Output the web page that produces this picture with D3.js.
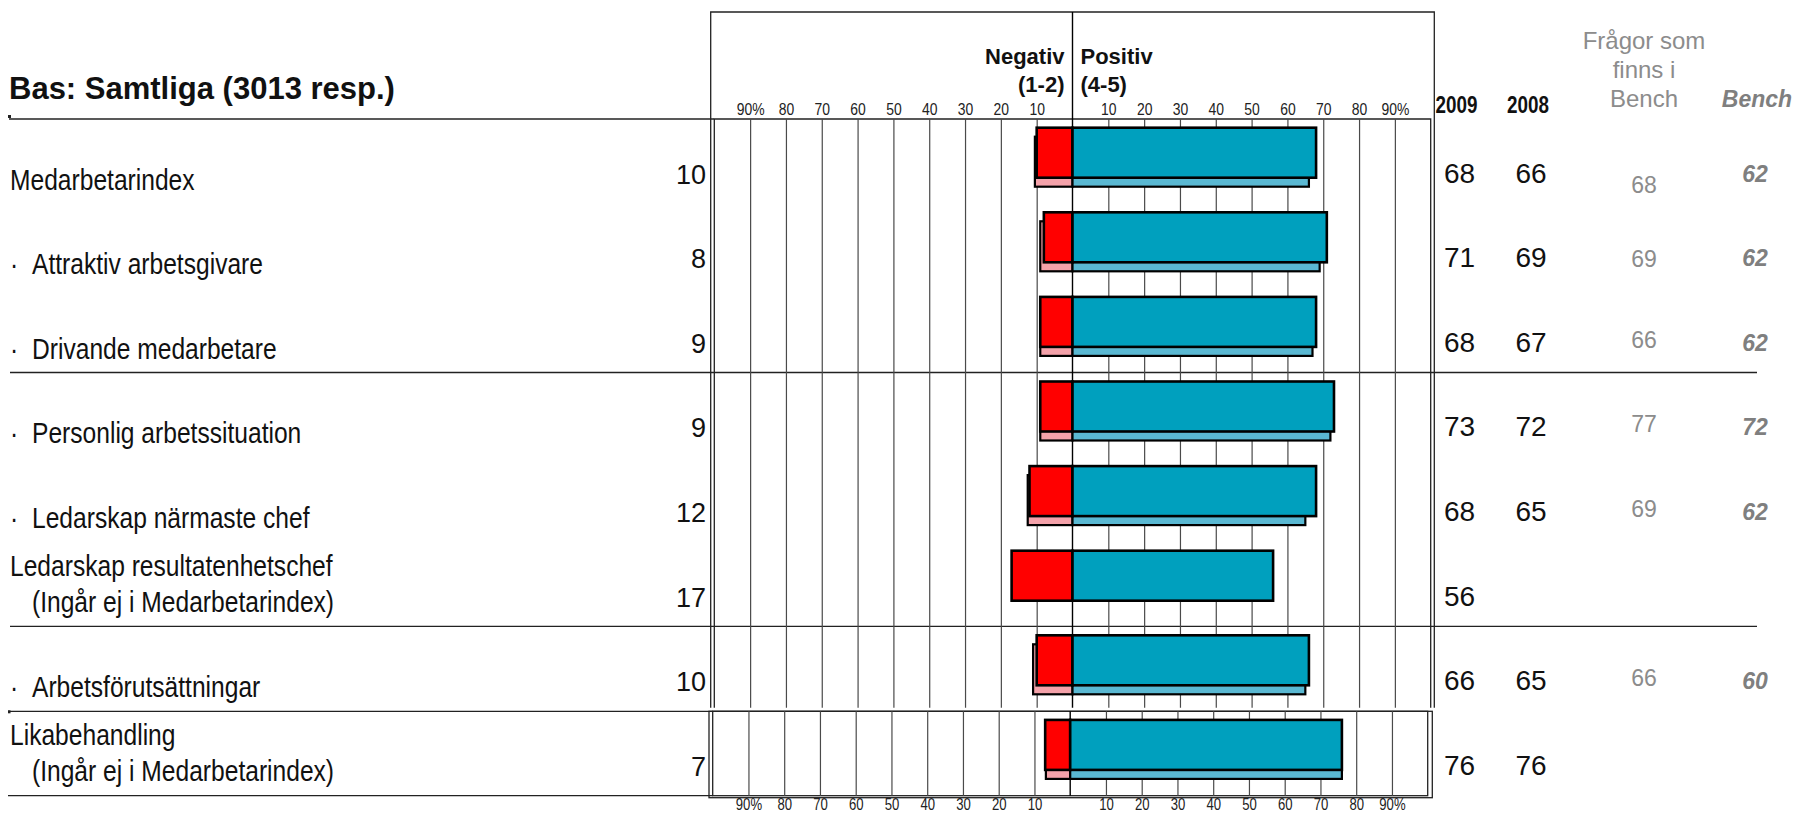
<!DOCTYPE html>
<html>
<head>
<meta charset="utf-8">
<script src="https://cdn.jsdelivr.net/npm/d3@7"></script>
<style>
  html, body { margin: 0; padding: 0; background: #fff; }
  svg { display: block; }
</style>
</head>
<body>
<svg id="chart" width="1796" height="813"></svg>
<script>
// ---- data ----
const categories = [
  "Medarbetarindex",
  "Attraktiv arbetsgivare",
  "Drivande medarbetare",
  "Personlig arbetssituation",
  "Ledarskap närmaste chef",
  "Ledarskap resultatenhetschef",
  "Arbetsförutsättningar",
  "Likabehandling"
];
const subNotes = ["", "", "", "", "", "(Ingår ej i Medarbetarindex)", "", "(Ingår ej i Medarbetarindex)"];
const bulleted = [false, true, true, true, true, false, true, false];
const negative2009 = [10, 8, 9, 9, 12, 17, 10, 7];
const positive2009 = [68, 71, 68, 73, 68, 56, 66, 76];
const negative2008 = [10.5, 9, 9, 9, 12.5, null, 11, 6.8];
const positive2008 = [66, 69, 67, 72, 65, null, 65, 76];
const benchQuestions = [68, 69, 66, 77, 69, null, 66, null];
const bench = [62, 62, 62, 72, 62, null, 60, null];
const axisTicks = [-90, -80, -70, -60, -50, -40, -30, -20, -10, 10, 20, 30, 40, 50, 60, 70, 80, 90];
const upperRows = categories.slice(0, 7);
const lowerRows = categories.slice(7);

// ---- colours ----
const RED = "#ff0000", TEAL = "#00a0be", PINK = "#f4a2aa", LIGHTBLUE = "#5ab8d2";
const GRID = "#4a4a4a", GREY = "#8c8c8c";

const svg = d3.select("#chart");

// condensed face, or a horizontally squeezed regular face when it is missing
const narrowOK = (() => {
  const c = document.createElement("canvas").getContext("2d");
  const s = "Personlig arbetssituation 0123456789";
  c.font = "30px monospace"; const a = c.measureText(s).width;
  c.font = "30px 'Liberation Sans Narrow', monospace"; const b = c.measureText(s).width;
  return Math.abs(a - b) > 1;
})();
const SANS = "'Liberation Sans', Arial, sans-serif";
const NARROW = narrowOK ? "'Liberation Sans Narrow', 'Arial Narrow', sans-serif" : SANS;
const SQUEEZE = narrowOK ? 1 : 0.82;

function label(parent, o) {
  return parent.append("text")
    .attr("transform", `translate(${o.x},${o.y})` + (o.narrow && SQUEEZE !== 1 ? ` scale(${SQUEEZE},1)` : ""))
    .attr("text-anchor", o.anchor || "start")
    .attr("font-family", o.narrow ? NARROW : SANS)
    .attr("font-size", o.size)
    .attr("font-weight", o.weight || "normal")
    .attr("font-style", o.style || "normal")
    .attr("fill", o.fill || "#111")
    .text(o.text);
}

// ---- scales ----
const xUpper = d3.scaleLinear().domain([-100, 100]).range([714.3, 1430.7]);
const xLower = d3.scaleLinear().domain([-100, 100]).range([712.7, 1427.7]);
const y = d3.scaleBand().domain(categories).range([127.7, 769.9]).paddingInner(0.409);
const bw = y.bandwidth();
const bottomOf = c => y(c) + bw;

const frameTop = 12, plotTop = 119, plotBottom = 707.7;
const boxTop = 711.3, boxBottom = 795.7;

// ---- row separators ----
const sep = svg.append("g").attr("stroke", "#222").attr("stroke-width", 1.3);
sep.append("line").attr("x1", 9).attr("x2", 714).attr("y1", plotTop).attr("y2", plotTop);
sep.append("rect").attr("x", 8).attr("y", plotTop - 4).attr("width", 3).attr("height", 3).attr("fill", "#222").attr("stroke", "none");
[categories[2], categories[5]].forEach(c => {
  const yy = bottomOf(c) + 25.6;
  sep.append("line").attr("x1", 10).attr("x2", 1757).attr("y1", yy).attr("y2", yy);
});
sep.append("line").attr("x1", 8).attr("x2", 712.7).attr("y1", boxTop).attr("y2", boxTop);
sep.append("rect").attr("x", 8).attr("y", boxTop - 1).attr("width", 2.5).attr("height", 3).attr("fill", "#222").attr("stroke", "none");
sep.append("line").attr("x1", 8).attr("x2", 712.7).attr("y1", boxBottom).attr("y2", boxBottom);

// ---- upper panel frame and grid ----
const frame = svg.append("g").attr("fill", "none").attr("stroke", "#222").attr("stroke-width", 1.3);
frame.append("path").attr("d", `M710.7,${plotBottom}V${frameTop}H1434.3V${plotBottom}`);
frame.append("path").attr("d", `M714.3,${plotBottom}V${plotTop}H1430.7V${plotBottom}`);

const gridUpper = svg.append("g")
  .attr("transform", `translate(0,${plotTop})`)
  .call(d3.axisBottom(xUpper).tickValues(axisTicks).tickSize(plotBottom - plotTop).tickFormat(""));
gridUpper.select(".domain").remove();
gridUpper.selectAll("line").attr("stroke", GRID).attr("stroke-width", 1.2);

// center line through the header
svg.append("line").attr("x1", xUpper(0)).attr("x2", xUpper(0))
  .attr("y1", frameTop).attr("y2", plotBottom).attr("stroke", "#000").attr("stroke-width", 1.4);

// ---- lower panel (Likabehandling) ----
frame.append("rect").attr("x", 709).attr("y", boxTop).attr("width", 1432.3 - 709).attr("height", 797.7 - boxTop);
frame.append("rect").attr("x", 712.7).attr("y", boxTop).attr("width", 1427.7 - 712.7).attr("height", boxBottom - boxTop);
const gridLower = svg.append("g")
  .attr("transform", `translate(0,${boxTop})`)
  .call(d3.axisBottom(xLower).tickValues(axisTicks).tickSize(boxBottom - boxTop).tickFormat(""));
gridLower.select(".domain").remove();
gridLower.selectAll("line").attr("stroke", GRID).attr("stroke-width", 1.2);
svg.append("line").attr("x1", xLower(0)).attr("x2", xLower(0))
  .attr("y1", boxTop).attr("y2", boxBottom).attr("stroke", "#000").attr("stroke-width", 1.4);

// ---- tick labels ----
const tickFmt = v => Math.abs(v) + (Math.abs(v) === 90 ? "%" : "");
function tickRow(scale, axisFn, yy, size) {
  const g = svg.append("g").attr("transform", `translate(0,${yy})`)
    .call(axisFn(scale).tickValues(axisTicks).tickSize(0).tickPadding(0).tickFormat(tickFmt));
  g.select(".domain").remove();
  g.selectAll("text")
    .attr("font-family", NARROW).attr("font-size", size).attr("fill", "#222")
    .attr("transform", SQUEEZE !== 1 ? `scale(${SQUEEZE},1)` : null);
  g.attr("font-family", null).attr("font-size", null);
}
tickRow(xUpper, d3.axisTop, 114.5, 17);
tickRow(xLower, d3.axisBottom, 798.5, 16);

// ---- header texts ----
label(svg, { x: xUpper(0) - 8, y: 64, text: "Negativ", size: 22, weight: "bold", anchor: "end" });
label(svg, { x: xUpper(0) - 8, y: 92, text: "(1-2)", size: 22, weight: "bold", anchor: "end" });
label(svg, { x: xUpper(0) + 8, y: 64, text: "Positiv", size: 22, weight: "bold" });
label(svg, { x: xUpper(0) + 8, y: 92, text: "(4-5)", size: 22, weight: "bold" });

label(svg, { x: 9, y: 99, text: "Bas: Samtliga (3013 resp.)", size: 31, weight: "bold" });

const COL2009 = 1459.5, COL2008 = 1531, COLBQ = 1644, COLBENCH = 1757;
label(svg, { x: COL2009 - 3, y: 113, text: "2009", size: 23, weight: "bold", narrow: true, anchor: "middle" });
label(svg, { x: COL2008 - 3, y: 113, text: "2008", size: 23, weight: "bold", narrow: true, anchor: "middle" });
["Frågor som", "finns i", "Bench"].forEach((s, k) =>
  label(svg, { x: COLBQ, y: 49 + k * 29, text: s, size: 24, fill: GREY, anchor: "middle" }));
label(svg, { x: COLBENCH, y: 107, text: "Bench", size: 23, weight: "bold", style: "italic", fill: "#7f7f7f", anchor: "middle" });

// ---- bars ----
const bars = svg.append("g");
categories.forEach((c, i) => {
  const x = lowerRows.includes(c) ? xLower : xUpper;
  const top = y(c);
  if (positive2008[i] != null) {
    const g08 = bars.append("g").attr("stroke", "#000").attr("stroke-width", 2.2);
    g08.append("rect").attr("x", x(-negative2008[i])).attr("y", top + 9)
      .attr("width", x(0) - x(-negative2008[i])).attr("height", bw).attr("fill", PINK);
    g08.append("rect").attr("x", x(0)).attr("y", top + 9)
      .attr("width", x(positive2008[i]) - x(0)).attr("height", bw).attr("fill", LIGHTBLUE);
  }
  const g09 = bars.append("g").attr("stroke", "#000").attr("stroke-width", 2.6);
  g09.append("rect").attr("x", x(-negative2009[i])).attr("y", top)
    .attr("width", x(0) - x(-negative2009[i])).attr("height", bw).attr("fill", RED);
  g09.append("rect").attr("x", x(0)).attr("y", top)
    .attr("width", x(positive2009[i]) - x(0)).attr("height", bw).attr("fill", TEAL);
});

// ---- row labels and values ----
const texts = svg.append("g");
categories.forEach((c, i) => {
  const b = bottomOf(c);
  if (subNotes[i]) {
    label(texts, { x: 10, y: b - 25, text: c, size: 30, narrow: true });
    label(texts, { x: 32, y: b + 11, text: subNotes[i], size: 30, narrow: true });
  } else if (bulleted[i]) {
    label(texts, { x: 10, y: b + 12, text: "·", size: 30, narrow: true });
    label(texts, { x: 32, y: b + 12, text: c, size: 30, narrow: true });
  } else {
    label(texts, { x: 10, y: b + 12, text: c, size: 30, narrow: true });
  }
  label(texts, { x: 706, y: b + 6, text: negative2009[i], size: 27, anchor: "end" });
  label(texts, { x: COL2009, y: b + 5, text: positive2009[i], size: 28, anchor: "middle" });
  if (positive2008[i] != null)
    label(texts, { x: COL2008, y: b + 5, text: positive2008[i], size: 28, anchor: "middle" });
  if (benchQuestions[i] != null)
    label(texts, { x: COLBQ, y: b + (i === 0 ? 15 : i === 1 ? 5 : 1), text: benchQuestions[i], size: 23, fill: GREY, anchor: "middle" });
  if (bench[i] != null)
    label(texts, { x: COLBENCH - 2, y: b + 4, text: bench[i], size: 23, weight: "bold", style: "italic", fill: "#7f7f7f", anchor: "middle" });
});
</script>
</body>
</html>
